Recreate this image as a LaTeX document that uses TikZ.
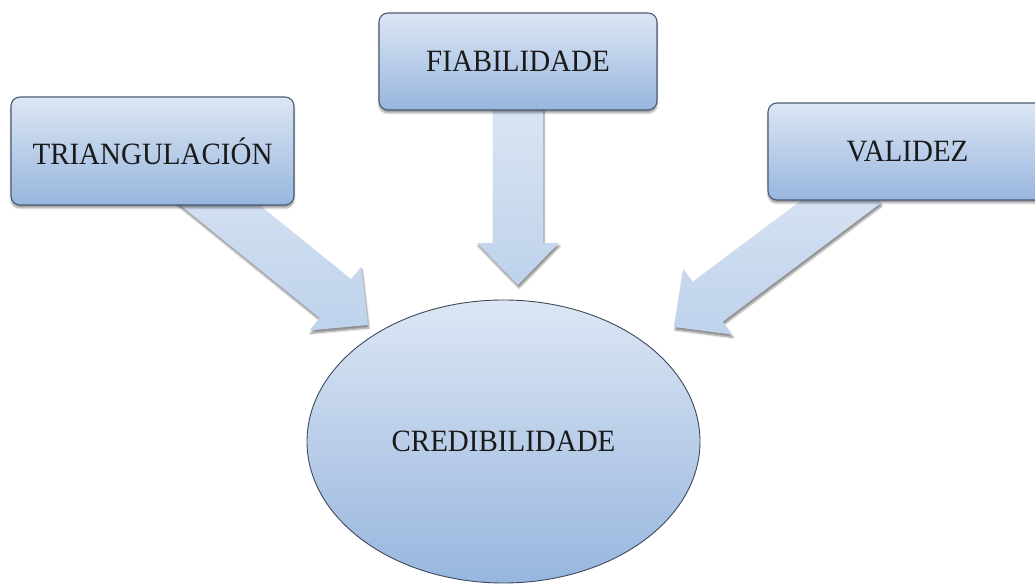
\documentclass[tikz,border=0pt]{standalone}
\usepackage{fontspec}
\setmainfont{Liberation Serif}[FakeStretch=0.935]
\usetikzlibrary{shadows.blur,calc,shapes.geometric}
\definecolor{boxtop}{HTML}{DCE6F4}
\definecolor{boxbot}{HTML}{98B6DE}
\definecolor{arrtop}{HTML}{DAE5F3}
\definecolor{arrbot}{HTML}{BED2EC}
\definecolor{boxline}{HTML}{4C5C74}
\definecolor{txt}{HTML}{1A1A1A}
\tikzset{
  topbox/.style={draw=boxline, line width=1.1pt, rounded corners=9pt,
    top color=boxtop, bottom color=boxbot, text=txt,
    minimum height=#1, inner sep=0pt,
    blur shadow={shadow xshift=0pt, shadow yshift=-3pt, shadow blur steps=6, shadow opacity=40}},
  topbox/.default=97pt,
  centre/.style={ellipse, draw=boxline!80!black, line width=0.9pt,
    top color=boxtop, bottom color=boxbot, text=txt,
    minimum width=393pt, minimum height=283pt, inner sep=0pt},
  arrowfill/.style={top color=arrtop, bottom color=arrbot,
    blur shadow={shadow xshift=1pt, shadow yshift=-3pt, shadow blur steps=5, shadow opacity=45}},
  lbl/.style={font=\fontsize{31}{36}\selectfont}
}
\newcommand\blockarr[2]{%
  \pgfpointdiff{\pgfpointanchor{#1}{center}}{\pgfpointanchor{#2}{center}}%
  \pgfgetlastxy{\Adx}{\Ady}%
  \pgfmathsetmacro\Aang{atan2(\Ady,\Adx)}%
  \pgfmathsetmacro\Alen{veclen(\Adx,\Ady)}%
  \begin{scope}[shift={(#1)}, rotate=\Aang]
    \path[arrowfill] (0,-25) -- (\Alen-42,-25) -- (\Alen-42,-41) -- (\Alen,0)
      -- (\Alen-42,41) -- (\Alen-42,25) -- (0,25) -- cycle;
  \end{scope}}
\begin{document}
\begin{tikzpicture}[x=1pt,y=1pt]
  \useasboundingbox (0,0) rectangle (1035,585);
  \clip (0,0) rectangle (1035,585);
  % arrow ends
  \coordinate (tl) at (166,423.5);
  \coordinate (hl) at (368,260);
  \coordinate (tm) at (518,480);
  \coordinate (hm) at (518,300);
  \coordinate (tr) at (866,402);
  \coordinate (hr) at (674,258);
  \blockarr{tl}{hl}
  \blockarr{tm}{hm}
  \blockarr{tr}{hr}
  % boxes
  \node[topbox=108pt, minimum width=283pt, lbl] (tri) at (152.5,434) {TRIANGULACIÓN};
  \node[topbox=97pt, minimum width=278pt, lbl] (fia) at (518,523.5) {FIABILIDADE};
  \node[topbox=97pt, minimum width=279pt, lbl] (val) at (907.5,433.5) {VALIDEZ};
  \node[centre, lbl] (cre) at (503.5,143.5) {CREDIBILIDADE};
\end{tikzpicture}
\end{document}
